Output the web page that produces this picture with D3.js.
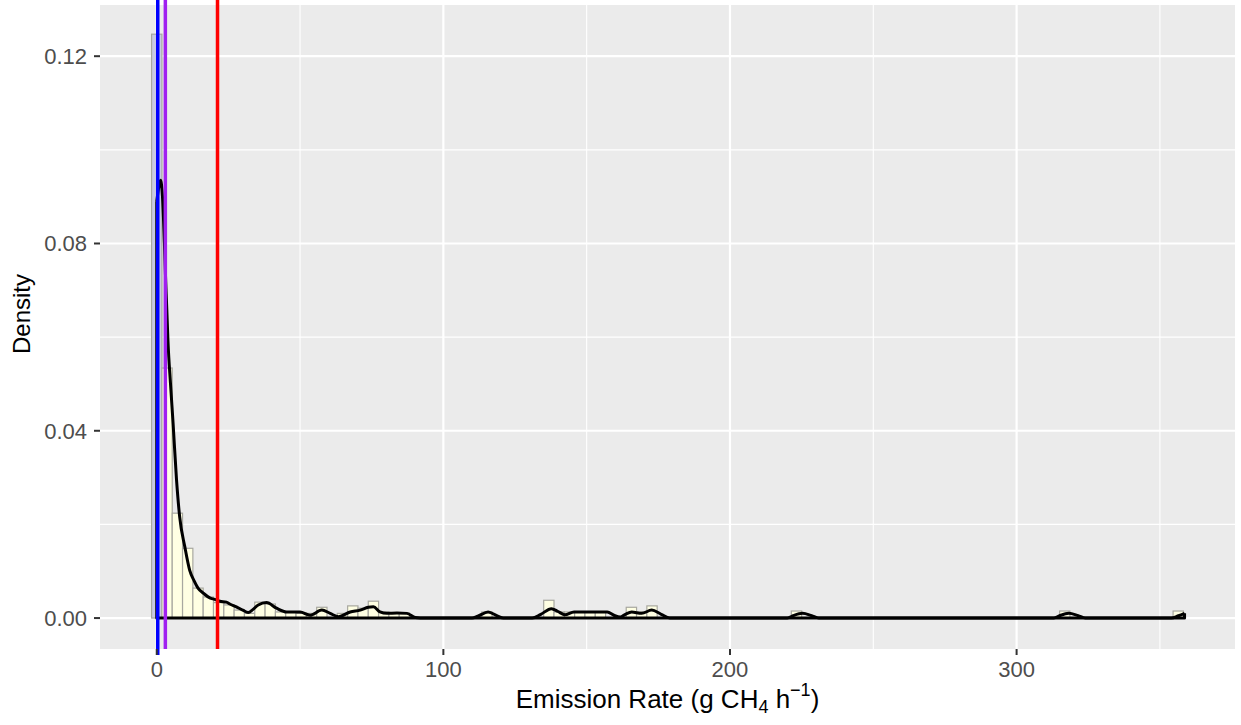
<!DOCTYPE html>
<html><head><meta charset="utf-8">
<script src="https://cdn.jsdelivr.net/npm/d3@7"></script>
<style>body{margin:0;background:#fff;} svg{display:block;}</style>
</head><body><svg id="c" width="1241" height="725"></svg>
<script>
// ---------- data ----------
const binWidth = 3.6;
const binCenters = [0, 3.6, 7.2, 10.8, 14.4, 18, 21.6, 25.2, 28.8, 32.4, 36, 39.6, 43.2, 46.8, 50.4, 54, 57.6,
  64.8, 68.4, 72, 75.6, 79.2, 82.8, 86.4, 115.2, 136.8, 140.4, 144, 147.6, 151.2, 154.8,
  165.6, 169.2, 172.8, 223.2, 316.8, 356.4];
const binDensity = [0.1247, 0.0534, 0.0224, 0.0149, 0.0064, 0.0045, 0.0033, 0.0028, 0.0017, 0.0010, 0.0034, 0.0030, 0.0013, 0.0013, 0.0010, 0.0010, 0.0023,
  0.0010, 0.0026, 0.0021, 0.0036, 0.0013, 0.0011, 0.0011, 0.0013, 0.0038, 0.0013, 0.0013, 0.0013, 0.0013, 0.0013,
  0.0023, 0.0013, 0.0026, 0.0015, 0.0015, 0.0015];
const curveX = [0, 0.7, 1.3, 2, 2.5, 3, 3.5, 3.9, 4.8, 5.7, 6.9, 8, 9.8, 11.5, 13, 14.4, 16.5, 18.5, 20.2, 22, 24.3, 25.5, 27.8, 30, 31.9, 33.5, 35.4, 38.3, 41.8, 45.3, 50, 53.5, 57.6, 60.5, 63.4, 67.5, 71, 73.8, 75.6, 77.9, 80.3, 83.8, 87.3, 90.2, 92,
  110, 112, 115.6, 119, 121, 131, 134, 137.7, 140, 142.4, 145.6, 151, 157.2, 159.5, 161.7, 163.5, 165.7, 169.2, 172.7, 176, 179,
  220, 222, 225.3, 228.5, 231, 313, 315, 318.2, 321.5, 324, 354, 356.5, 358.6];
const curveY = [0.089, 0.092, 0.0935, 0.090, 0.083, 0.074, 0.066, 0.0594, 0.050, 0.0416, 0.0295, 0.0216, 0.0152, 0.0102, 0.0080, 0.0064, 0.0052, 0.0043, 0.0040, 0.0036, 0.0034, 0.0030, 0.0024, 0.0017, 0.0012, 0.0018, 0.0028, 0.0033, 0.0021, 0.0013, 0.0013, 0.0006, 0.0017, 0.0010, 0.0003, 0.0013, 0.0017, 0.0023, 0.0024, 0.0013, 0.0010, 0.0011, 0.0010, 0.0001, 0,
  0, 0.0004, 0.0013, 0.0004, 0, 0, 0.0008, 0.0020, 0.0014, 0.0007, 0.0013, 0.0013, 0.0013, 0.0006, 0.0002, 0.0008, 0.0013, 0.0010, 0.0017, 0.0008, 0,
  0, 0.0005, 0.0010, 0.0005, 0, 0, 0.0005, 0.0010, 0.0005, 0, 0, 0.0005, 0.0010];
const vlineValues = [0.35, 3.0, 21.2];
const xTicks = [0, 100, 200, 300];
const xMinor = [50, 150, 250, 350];
const yTicks = [0, 0.04, 0.08, 0.12];
const yMinor = [0.02, 0.06, 0.10];

// ---------- layout ----------
const P = {left: 100, right: 1235, top: 5, bottom: 649};
const svg = d3.select('#c');
const font = '"Liberation Sans", Arial, sans-serif';

const bins = binCenters.map((c, i) => ({x0: c - binWidth / 2, x1: c + binWidth / 2, d: binDensity[i]}));
const xMin = d3.min(bins, b => b.x0), xMax = d3.max(bins, b => b.x1);
const xPad = (xMax - xMin) * 0.05;
const x = d3.scaleLinear().domain([xMin - xPad, xMax + xPad]).range([P.left, P.right]);
const yMax = d3.max(binDensity);
const y = d3.scaleLinear().domain([-0.053 * yMax, 1.05 * yMax]).range([P.bottom, P.top]);

// panel
svg.append('rect').attr('x', P.left).attr('y', P.top).attr('width', P.right - P.left).attr('height', P.bottom - P.top).attr('fill', '#EBEBEB');
const grid = svg.append('g');
grid.selectAll('.xm').data(xMinor).join('line').attr('x1', d => x(d)).attr('x2', d => x(d)).attr('y1', P.top).attr('y2', P.bottom).attr('stroke', '#fff').attr('stroke-width', 1.1);
grid.selectAll('.ym').data(yMinor).join('line').attr('y1', d => y(d)).attr('y2', d => y(d)).attr('x1', P.left).attr('x2', P.right).attr('stroke', '#fff').attr('stroke-width', 1.1);
grid.selectAll('.xM').data(xTicks).join('line').attr('x1', d => x(d)).attr('x2', d => x(d)).attr('y1', P.top).attr('y2', P.bottom).attr('stroke', '#fff').attr('stroke-width', 2.2);
grid.selectAll('.yM').data(yTicks).join('line').attr('y1', d => y(d)).attr('y2', d => y(d)).attr('x1', P.left).attr('x2', P.right).attr('stroke', '#fff').attr('stroke-width', 2.2);

// histogram
svg.append('g').selectAll('rect').data(bins).join('rect')
  .attr('x', d => x(d.x0)).attr('width', d => x(d.x1) - x(d.x0))
  .attr('y', d => y(d.d)).attr('height', d => y(0) - y(d.d))
  .attr('fill', d => (d.x0 <= 0 && d.x1 > 0) ? '#C9CAE3' : '#FFFFE3')
  .attr('stroke', '#A8A8A0').attr('stroke-width', 1.2);

// density
const pts = curveX.map((v, i) => [v, curveY[i]]);
svg.append('path').attr('d', d3.line().x(d => x(d[0])).y(d => y(d[1])).curve(d3.curveMonotoneX)(pts))
  .attr('fill', 'none').attr('stroke', '#000').attr('stroke-width', 3).attr('stroke-linejoin', 'round');
const first = pts[0], last = pts[pts.length - 1];
svg.append('path').attr('d', d3.line().x(d => x(d[0])).y(d => y(d[1]))([last, [last[0], 0], [first[0], 0], first]))
  .attr('fill', 'none').attr('stroke', '#000').attr('stroke-width', 3).attr('stroke-linejoin', 'round');

// reference lines
const vColors = ['#0000FF', '#A020F0', '#FF0000'];
svg.append('g').selectAll('line').data(vlineValues).join('line')
  .attr('x1', d => x(d)).attr('x2', d => x(d)).attr('y1', 0).attr('y2', (d, i) => i === 0 ? P.bottom + 6 : P.bottom)
  .attr('stroke', (d, i) => vColors[i]).attr('stroke-width', 3.5);

// axes
const tickCol = '#333333', labCol = '#4D4D4D';
const ax = svg.append('g');
ax.selectAll('.xt').data(xTicks).join('line').attr('x1', d => x(d)).attr('x2', d => x(d)).attr('y1', P.bottom).attr('y2', P.bottom + 6).attr('stroke', tickCol).attr('stroke-width', 2);
ax.selectAll('.xl').data(xTicks).join('text').attr('x', d => x(d)).attr('y', 677).attr('text-anchor', 'middle')
  .attr('font-family', font).attr('font-size', 22).attr('fill', labCol).text(d => d3.format('d')(d));
ax.selectAll('.yt').data(yTicks).join('line').attr('y1', d => y(d)).attr('y2', d => y(d)).attr('x1', P.left - 6).attr('x2', P.left).attr('stroke', tickCol).attr('stroke-width', 2);
ax.selectAll('.yl').data(yTicks).join('text').attr('x', P.left - 13).attr('y', d => y(d)).attr('dy', '0.36em').attr('text-anchor', 'end')
  .attr('font-family', font).attr('font-size', 22).attr('fill', labCol).text(d => d3.format('.2f')(d));

// titles
svg.append('text').attr('transform', `translate(30,314) rotate(-90)`).attr('text-anchor', 'middle')
  .attr('font-family', font).attr('font-size', 24).attr('fill', '#000').text('Density');
const xt = svg.append('text').attr('x', (P.left + P.right) / 2).attr('y', 708).attr('text-anchor', 'middle')
  .attr('font-family', font).attr('font-size', 26).attr('fill', '#000');
xt.append('tspan').text('Emission Rate (g CH');
xt.append('tspan').attr('font-size', 18).attr('dy', 5).text('4');
xt.append('tspan').attr('dy', -5).text(' h');
xt.append('tspan').attr('font-size', 18).attr('dy', -12).text('\u22121');
xt.append('tspan').attr('dy', 12).text(')');
</script></body></html>
